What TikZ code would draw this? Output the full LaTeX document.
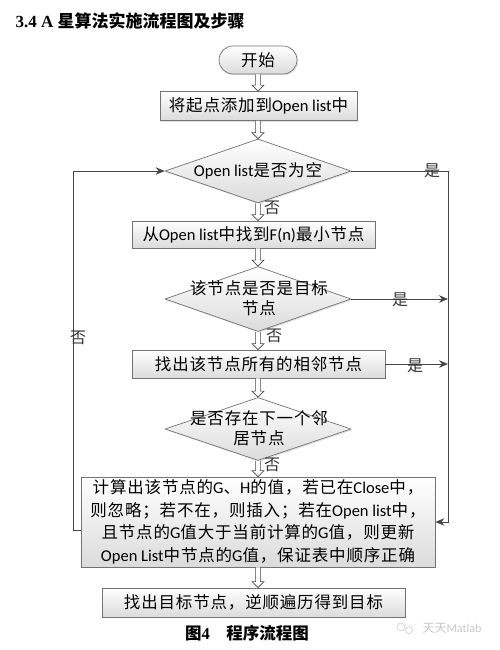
\documentclass[tikz,border=0pt]{standalone}
\usepackage{fontspec}
\setmainfont{Noto Sans CJK SC}
\newfontfamily\spaced{Noto Sans CJK SC}[LetterSpace=5]
\newfontfamily\lat{Carlito}
\newfontfamily\titlelat{Liberation Serif}
\usetikzlibrary{arrows,
  arrows.meta,
  calc,
  positioning,
  shapes,
  shadows
}
\definecolor{linegray}{RGB}{70,70,70}
\definecolor{boxgray}{RGB}{115,115,115}

\tikzstyle{stepbox} = [draw=boxgray, line width=0.7pt, top color=white,
  bottom color=black!14, drop shadow={opacity=0.25, shadow xshift=1.2pt,
  shadow yshift=-1.2pt}, inner sep=0pt, align=center,
  font=\spaced\fontsize{16.5}{22.5}\selectfont]
\tikzstyle{decide} = [stepbox, diamond]
\tikzstyle{dtext} = [align=center, inner sep=0pt,
  font=\spaced\fontsize{16.5}{20.5}\selectfont]
\tikzstyle{conn} = [draw=linegray, line width=0.8pt,
  >={Stealth[length=9pt, width=7.5pt]}]
\tikzstyle{hollow} = [draw=linegray, line width=0.6pt, fill=white]
\tikzstyle{lbl} = [inner sep=0pt, text=black!80, font=\fontsize{16}{16}\selectfont]

% hollow down arrow from #1 to #2, on the main axis
\newcommand{\hollowstep}[2]{%
  \draw[hollow] let \p1=(#1.south), \p2=(#2.north), \p3=(axis) in
    (\x3-2.4pt,\y1) -- (\x3-2.4pt,\y2+6pt) -- (\x3-6pt,\y2+6pt) -- (\x3,\y2)
    -- (\x3+6pt,\y2+6pt) -- (\x3+2.4pt,\y2+6pt) -- (\x3+2.4pt,\y1);}

\begin{document}
\begin{tikzpicture}[x=1pt, y=-1pt]
  \useasboundingbox (0,0) rectangle (500,650);
  \coordinate (axis) at (258,0);

  \node[anchor=west, font=\fontsize{17}{17}\selectfont\bfseries] (title) at (12,21)
    {{\titlelat\bfseries 3.4 A }星算法实施流程图及步骤};

  \node[stepbox, rounded corners=14pt, minimum width=78pt, minimum height=28pt]
    (start) at (258,60) {开始};
  \node[stepbox, minimum width=197pt, minimum height=29pt] (addopen) at (258.5,106)
    {将起点添加到{\lat Open list}中};
  \node[decide, minimum width=186pt, minimum height=64pt] (isempty) at (258,171) {};
  \node[dtext] (isemptytxt) at (isempty) {{\lat Open list}是否为空};
  \node[stepbox, minimum width=243pt, minimum height=27pt] (findmin) at (253.5,234.5)
    {从{\lat Open list}中找到{\lat F(n)}最小节点};
  \node[decide, minimum width=186pt, minimum height=65pt] (isgoal) at (258,299) {};
  \node[dtext] (isgoaltxt) at (259,298) {该节点是否是目标\\节点};
  \node[stepbox, minimum width=253pt, minimum height=28pt] (neighbours) at (258.5,364)
    {找出该节点所有的相邻节点};
  \node[decide, minimum width=186pt, minimum height=63pt] (hasnext) at (258,429) {};
  \node[dtext] (hasnexttxt) at (259,428) {是否存在下一个邻\\居节点};
  \node[stepbox, minimum width=354pt, minimum height=90pt] (update) at (258,522)
    {计算出该节点的{\lat G}、{\lat H}的值，若已在{\lat Close}中，\\
     则忽略；若不在，则插入；若在{\lat Open list}中，\\
     且节点的{\lat G}值大于当前计算的{\lat G}值，则更新\\
     {\lat Open List}中节点的{\lat G}值，保证表中顺序正确};
  \node[stepbox, minimum width=303pt, minimum height=29pt] (trace) at (253.5,602.5)
    {找出目标节点，逆顺遍历得到目标};

  \hollowstep{start}{addopen}
  \hollowstep{addopen}{isempty}
  \hollowstep{isempty}{findmin}
  \hollowstep{findmin}{isgoal}
  \hollowstep{isgoal}{neighbours}
  \hollowstep{neighbours}{hasnext}
  \hollowstep{hasnext}{update}
  \hollowstep{update}{trace}

  \coordinate (rt) at (448,171);
  \coordinate (lt) at (73,530);
  \draw[conn] (isempty.east) -- (rt);
  \draw[conn,->] (rt) |- (update.east);
  \draw[conn,->] (isgoal.east) -- (isgoal.east -| rt);
  \draw[conn,->] (neighbours.east) -- (neighbours.east -| rt);
  \draw[conn,->] (update.west |- lt) -- (lt) |- (isempty.west);

  \node[lbl] (yes1) at (432,171) {是};
  \node[lbl] (yes2) at (400,300) {是};
  \node[lbl] (yes3) at (415,366) {是};
  \node[lbl] (no1) at (272,208) {否};
  \node[lbl] (no2) at (274,336) {否};
  \node[lbl] (no3) at (272,465) {否};
  \node[lbl] (noloop) at (78,338) {否};

  \node[font=\fontsize{16.5}{16.5}\selectfont\bfseries] (caption) at (247,633)
    {图{\titlelat\bfseries 4}\quad 程序流程图};
  \draw[gray!40, line width=0.6pt] (401,627) circle (4pt) (409,630) circle (3.5pt);
  \node[text=gray!45, font=\fontsize{12}{12}\selectfont] (mark) at (452,628)
    {天天{\lat Matlab}};
\end{tikzpicture}
\end{document}
